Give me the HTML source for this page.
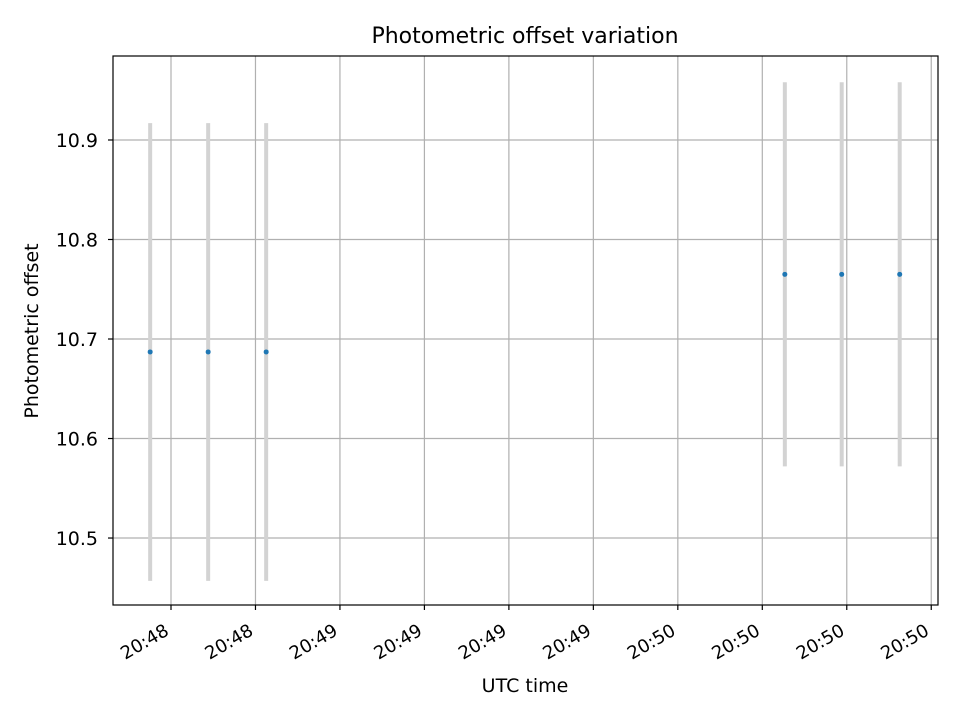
<!DOCTYPE html>
<html><head><meta charset="utf-8"><style>
body{margin:0;background:#fff;}
text{font-family:"DejaVu Sans","Liberation Sans",sans-serif;fill:#000;}
</style></head><body>
<svg width="960" height="720" xmlns="http://www.w3.org/2000/svg">
<rect width="960" height="720" fill="#fff"/>
<g id="grid"></g>
<g id="bars"></g>
<g id="pts"></g>
<rect x="113" y="56" width="825" height="549" fill="none" stroke="#000" stroke-width="1.2"/>
<g id="axes"></g>
<text x="525" y="43" font-size="22" text-anchor="middle">Photometric offset variation</text>
<text x="525" y="692" font-size="19" text-anchor="middle">UTC time</text>
<text transform="translate(38,331) rotate(-90)" font-size="19" text-anchor="middle">Photometric offset</text>
</svg>
<script>
// seconds after 20:48:00
const times = [26.3, 36.6, 46.9, 139.0, 149.1, 159.4];
const offsets = [10.687, 10.687, 10.687, 10.765, 10.765, 10.765];
const errors = [0.23, 0.23, 0.23, 0.193, 0.193, 0.193];
const xTicks = [30, 45, 60, 75, 90, 105, 120, 135, 150, 165];
const xTickLabels = ["20:48","20:48","20:49","20:49","20:49","20:49","20:50","20:50","20:50","20:50"];
const yTicks = [10.5, 10.6, 10.7, 10.8, 10.9];
const yTickLabels = ["10.5","10.6","10.7","10.8","10.9"];

const X0=113,X1=938,Y0=56,Y1=605;
const xMin=19.7,xMax=166.2,yMin=10.4327,yMax=10.9844;
const sx=v=>X0+(v-xMin)/(xMax-xMin)*(X1-X0);
const sy=v=>Y1-(v-yMin)/(yMax-yMin)*(Y1-Y0);
const NS="http://www.w3.org/2000/svg";
function mk(tag,attrs,parent){const e=document.createElementNS(NS,tag);for(const k in attrs)e.setAttribute(k,attrs[k]);parent.appendChild(e);return e;}
const grid=document.getElementById('grid'),axes=document.getElementById('axes'),bars=document.getElementById('bars'),pts=document.getElementById('pts');
xTicks.forEach((t,i)=>{const x=sx(t);
 const g=mk('line',{x1:x,x2:x,y1:Y0,y2:Y1,stroke:'#b0b0b0','stroke-width':1.2},grid);
 
 
 const tk=mk('line',{x1:x,x2:x,y1:Y1,y2:Y1+5,stroke:'#000','stroke-width':1.2},axes);
 
 
 const tx=mk('text',{transform:`translate(${x-1},${Y1+29}) rotate(-30)`,'font-size':18,'text-anchor':'end'},axes);
 tx.textContent=xTickLabels[i];
 
 
});
yTicks.forEach((t,i)=>{const y=sy(t);
 const g=mk('line',{x1:X0,x2:X1,y1:y,y2:y,stroke:'#b0b0b0','stroke-width':1.2},grid);
 
 
 const tk=mk('line',{x1:X0-5,x2:X0,y1:y,y2:y,stroke:'#000','stroke-width':1.2},axes);
 
 
 const tx=mk('text',{x:X0-15,y:y+7,'font-size':19,'text-anchor':'end'},axes);
 tx.textContent=yTickLabels[i];
 
 
});
times.forEach((t,i)=>{const x=sx(t);
 const b=mk('line',{x1:x,x2:x,y1:sy(offsets[i]+errors[i]),y2:sy(offsets[i]-errors[i]),stroke:'#d3d3d3','stroke-width':4},bars);
 
 
 const c=mk('circle',{cx:x,cy:sy(offsets[i]),r:2.5,fill:'#1f77b4'},pts);
 
 
});
</script>
</body></html>
